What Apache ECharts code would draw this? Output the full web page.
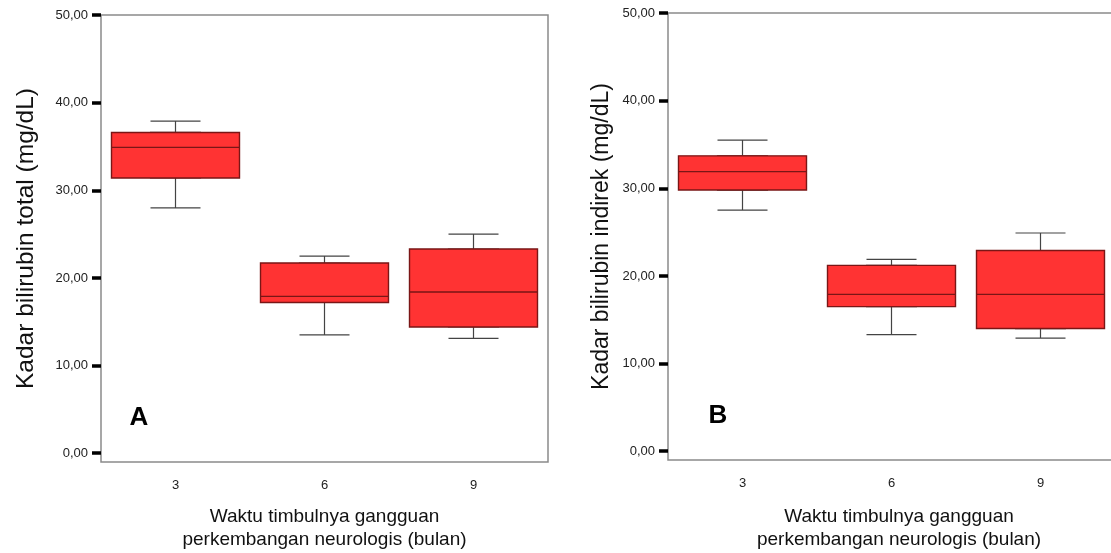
<!DOCTYPE html>
<html>
  <head>
    <meta charset="UTF-8" />
    <title>Kadar bilirubin - boxplot</title>
    <script src="https://cdn.jsdelivr.net/npm/echarts@6/dist/echarts.min.js"></script>
    <style>
      html, body { margin: 0; padding: 0; background: #fff; }
      #chart { width: 1111px; height: 553px; }
    </style>
  </head>
  <body>
    <div id="chart"></div>
    <script type="text/javascript">
      // data: [min, Q1, median, Q3, max]
      var categories = ["3", "6", "9"];
      var totalBox = [
        [28.0, 31.4, 34.9, 36.6, 37.9],
        [13.5, 17.2, 17.9, 21.7, 22.5],
        [13.1, 14.4, 18.4, 23.3, 25.0],
      ];
      var indirekBox = [
        [27.5, 29.8, 31.9, 33.7, 35.5],
        [13.3, 16.5, 17.9, 21.2, 21.9],
        [12.9, 14.0, 17.9, 22.9, 24.9],
      ];
      var yTicks = [0, 10, 20, 30, 40, 50];

      var FONT = "Liberation Sans, Arial, sans-serif";
      var xName = "Waktu timbulnya gangguan\nperkembangan neurologis (bulan)";

      // box body only: whiskers collapsed onto the box edges
      function bodyOf(rows) {
        return rows.map(function (r) {
          return [r[1], r[1], r[2], r[3], r[3]];
        });
      }

      function fmt(v) {
        return v.toFixed(2).replace(".", ",");
      }

      var chart = echarts.init(document.getElementById("chart"));

      function xAxisVisible(grid, gap, pad) {
        return {
          type: "category",
          gridIndex: grid,
          data: categories,
          boundaryGap: true,
          axisLine: { show: false },
          axisTick: {
            alignWithLabel: true,
            length: 8,
            lineStyle: { color: "#000", width: 3.5 },
          },
          axisLabel: { fontSize: 13, color: "#222", margin: 17, fontFamily: FONT },
          splitLine: { show: false },
          name: xName,
          nameLocation: "middle",
          nameGap: gap,
          nameTextStyle: {
            fontSize: 19,
            lineHeight: 23,
            color: "#111",
            fontFamily: FONT,
            padding: pad,
          },
        };
      }

      function xAxisHidden(grid) {
        return {
          type: "category",
          gridIndex: grid,
          data: categories,
          boundaryGap: true,
          show: false,
        };
      }

      function yAxisOf(grid, name, gap, size) {
        return {
          type: "value",
          gridIndex: grid,
          min: -1,
          max: 50,
          axisLine: { show: false },
          splitLine: { show: false },
          axisTick: {
            show: true,
            length: 9,
            customValues: yTicks,
            lineStyle: { color: "#000", width: 3.5 },
          },
          axisLabel: {
            customValues: yTicks,
            formatter: fmt,
            fontSize: 13,
            color: "#222",
            margin: 13,
            fontFamily: FONT,
          },
          name: name,
          nameLocation: "middle",
          nameGap: gap,
          nameMoveOverlap: false,
          nameTextStyle: { fontSize: size, color: "#111", fontFamily: FONT },
        };
      }

      function whiskerSeries(xi, yi, rows) {
        return {
          type: "boxplot",
          xAxisIndex: xi,
          yAxisIndex: yi,
          boxWidth: [50, 50],
          data: rows,
          silent: true,
          itemStyle: { color: "#ff3333", borderColor: "#444", borderWidth: 1.2 },
          z: 2,
        };
      }

      function bodySeries(xi, yi, rows) {
        return {
          type: "boxplot",
          xAxisIndex: xi,
          yAxisIndex: yi,
          boxWidth: [128, 128],
          data: bodyOf(rows),
          silent: true,
          itemStyle: { color: "#ff3333", borderColor: "#7a1616", borderWidth: 1.4 },
          z: 3,
        };
      }

      var option = {
        animation: false,
        backgroundColor: "#fff",
        textStyle: { fontFamily: FONT },
        grid: [
          {
            left: 101, top: 15, width: 447, bottom: 91,
            outerBoundsMode: "none",
            show: true, borderColor: "#8a8a8a", borderWidth: 1.5, backgroundColor: "#fff",
          },
          {
            left: 668, top: 13, width: 447, bottom: 93,
            outerBoundsMode: "none",
            show: true, borderColor: "#8a8a8a", borderWidth: 1.5, backgroundColor: "#fff",
          },
        ],
        xAxis: [
          xAxisVisible(0, 43, [0, 0, 0, 0]),
          xAxisHidden(0),
          xAxisVisible(1, 45, [0, 0, 0, 15]),
          xAxisHidden(1),
        ],
        yAxis: [
          yAxisOf(0, "Kadar bilirubin total (mg/dL)", 62, 24.5),
          yAxisOf(1, "Kadar bilirubin indirek (mg/dL)", 55, 23),
        ],
        graphic: [
          {
            type: "text",
            style: {
              text: "A", x: 139, y: 418, align: "center", verticalAlign: "middle",
              font: "bold 26px " + FONT, fill: "#000",
            },
          },
          {
            type: "text",
            style: {
              text: "B", x: 718, y: 416, align: "center", verticalAlign: "middle",
              font: "bold 26px " + FONT, fill: "#000",
            },
          },
        ],
        series: [
          whiskerSeries(0, 0, totalBox),
          bodySeries(1, 0, totalBox),
          whiskerSeries(2, 1, indirekBox),
          bodySeries(3, 1, indirekBox),
        ],
      };

      chart.setOption(option);
    </script>
  </body>
</html>
